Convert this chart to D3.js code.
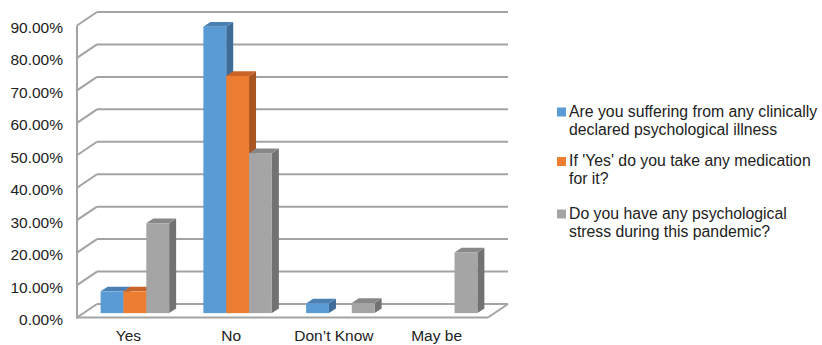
<!DOCTYPE html>
<html>
<head>
<meta charset="utf-8">
<script src="https://cdn.jsdelivr.net/npm/d3@7"></script>
<style>
  html, body { margin: 0; padding: 0; background: #fff; }
  svg { display: block; font-family: "Liberation Sans", Arial, sans-serif; }
</style>
</head>
<body>
<svg id="chart" width="822" height="345"></svg>
<script>
// Survey answers per category, one array per question
const categories = ["Yes", "No", "Don\u2019t Know", "May be"];
const seriesNames = [
  ["Are you suffering from any clinically", "declared psychological illness"],
  ["If 'Yes' do you take any medication", "for it?"],
  ["Do you have any psychological", "stress during this pandemic?"]
];
const illness    = [0.067, 0.883, 0.030, null];
const medication = [0.067, 0.731, null,  null];
const stress     = [0.277, 0.493, 0.031, 0.187];
const yTicks = [0, 0.1, 0.2, 0.3, 0.4, 0.5, 0.6, 0.7, 0.8, 0.9];

const seriesValues = [illness, medication, stress];
const faceColors = [
  { front: "#5B9BD5", top: "#4A80B3", side: "#3E6C98" },
  { front: "#ED7D31", top: "#C8642A", side: "#A95522" },
  { front: "#A5A5A5", top: "#888888", side: "#727272" }
];

const svg = d3.select("#chart");

// front plane of the 3-D box and the depth vector to its back wall
const left = 77, right = 488;
const DX = 20, DY = -13.5;
const y = d3.scaleLinear().domain([0, 0.9]).range([317.5, 25.5]);
const x = d3.scaleBand().domain(categories).range([left, right]).paddingInner(0).paddingOuter(0);
// 150% gap between clusters
const inner = d3.scaleBand().domain(d3.range(3)).range([0, x.bandwidth()]).paddingInner(0).paddingOuter(0.75);
const f0 = 0.325, f1 = 0.675; // bar depth within the box

const wallColor = "#A3A3A3";
const walls = svg.append("g").attr("fill", "none").attr("stroke", wallColor).attr("stroke-width", 2);

// back-wall gridlines
walls.selectAll("line.grid").data(yTicks).join("line")
  .attr("class", "grid")
  .attr("x1", left + DX).attr("x2", right + DX)
  .attr("y1", d => y(d) + DY).attr("y2", d => y(d) + DY);

// side-wall gridlines
walls.selectAll("line.side").data(yTicks).join("line")
  .attr("class", "side")
  .attr("x1", left).attr("x2", left + DX)
  .attr("y1", d => y(d)).attr("y2", d => y(d) + DY);

// front edge of the side wall, floor front and right edges
walls.append("line").attr("x1", left).attr("x2", left).attr("y1", y(0.9)).attr("y2", y(0) + 1);
walls.append("line").attr("x1", left).attr("x2", right).attr("y1", y(0)).attr("y2", y(0));
walls.append("line").attr("x1", right).attr("x2", right + DX).attr("y1", y(0)).attr("y2", y(0) + DY);

// bars as three visible faces
const bars = [];
categories.forEach((c, ci) => {
  seriesValues.forEach((vals, si) => {
    const v = vals[ci];
    if (v == null) return;
    bars.push({ c, si, v });
  });
});

const barG = svg.append("g");
bars.forEach(b => {
  const x0 = x(b.c) + inner(b.si), w = inner.bandwidth();
  const yt = y(b.v), yb = y(0);
  const col = faceColors[b.si];
  const g = barG.append("g");
  g.append("polygon").attr("fill", col.side).attr("points", [
    [x0 + w + f0 * DX, yt + f0 * DY], [x0 + w + f1 * DX, yt + f1 * DY],
    [x0 + w + f1 * DX, yb + f1 * DY], [x0 + w + f0 * DX, yb + f0 * DY]
  ].join(" "));
  g.append("polygon").attr("fill", col.top).attr("points", [
    [x0 + f0 * DX, yt + f0 * DY], [x0 + w + f0 * DX, yt + f0 * DY],
    [x0 + w + f1 * DX, yt + f1 * DY], [x0 + f1 * DX, yt + f1 * DY]
  ].join(" "));
  g.append("rect").attr("fill", col.front)
    .attr("x", x0 + f0 * DX).attr("y", yt + f0 * DY)
    .attr("width", w).attr("height", yb - yt);
});

// value axis
const yAxis = svg.append("g").attr("transform", `translate(${left},2)`)
  .call(d3.axisLeft(y).tickValues(yTicks).tickFormat(d3.format(".2%")).tickSize(0).tickPadding(14));
yAxis.select(".domain").remove();
yAxis.selectAll("text").attr("font-size", 15.5).attr("fill", "#222").attr("font-family", "Liberation Sans, Arial, sans-serif");

// category axis
const xAxis = svg.append("g").attr("transform", `translate(0,${y(0)})`)
  .call(d3.axisBottom(x).tickSize(0).tickPadding(12));
xAxis.select(".domain").remove();
xAxis.selectAll("text").attr("font-size", 15.5).attr("fill", "#222").attr("font-family", "Liberation Sans, Arial, sans-serif");

// legend
const legendTop = [116.5, 166, 218.5];
const legend = svg.append("g");
seriesNames.forEach((lines, i) => {
  const g = legend.append("g");
  g.append("rect").attr("x", 557).attr("y", legendTop[i] - 9).attr("width", 9).attr("height", 9)
    .attr("fill", faceColors[i].front);
  const t = g.append("text").attr("x", 569).attr("y", legendTop[i])
    .attr("font-size", 15.8).attr("fill", "#222");
  lines.forEach((ln, k) => {
    t.append("tspan").attr("x", 569).attr("dy", k === 0 ? 0 : 18.3).text(ln);
  });
});
</script>
</body>
</html>
